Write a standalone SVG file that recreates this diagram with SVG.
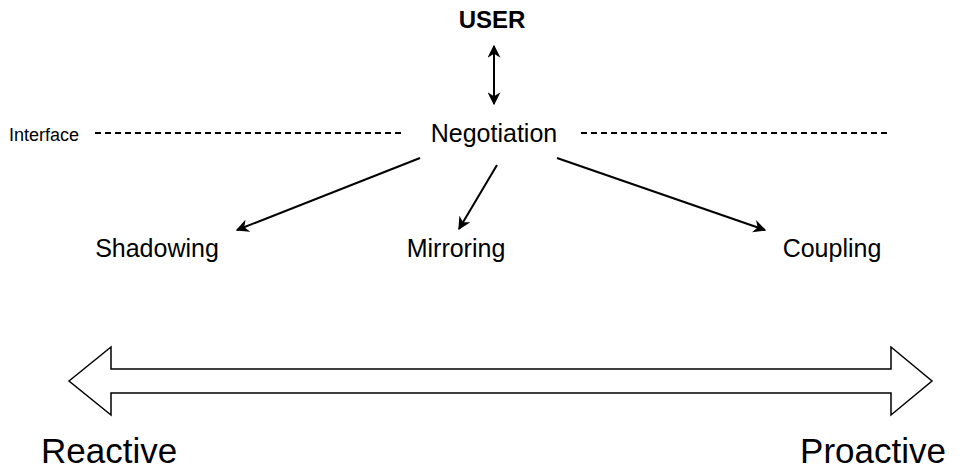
<svg xmlns="http://www.w3.org/2000/svg" width="966" height="471" viewBox="0 0 966 471">
<defs>
<style>
text{font-family:"Liberation Sans",Arial,sans-serif;fill:#000}
.c{stroke:#000;stroke-width:2;fill:none}
.d{stroke:#000;stroke-width:2;fill:none;stroke-dasharray:6 4}
.n{font-size:25px;text-anchor:middle}
.b{font-size:35px}
</style>
<marker id="ah2" viewBox="0 0 10 10" refX="9" refY="5" markerWidth="13" markerHeight="13" markerUnits="userSpaceOnUse" orient="auto-start-reverse">
<path d="M0,0 L10,5 L0,10 L3,5 Z" fill="#000"/>
</marker>
</defs>
<g id="user"><text x="492" y="28" font-size="24" font-weight="bold" text-anchor="middle">USER</text></g>
<g id="negotiation"><text class="n" x="494" y="142">Negotiation</text></g>
<g id="interface"><text x="9" y="141" font-size="18">Interface</text></g>
<g id="shadowing"><text class="n" x="157" y="257">Shadowing</text></g>
<g id="mirroring"><text class="n" x="456" y="257">Mirroring</text></g>
<g id="coupling"><text class="n" x="832" y="257">Coupling</text></g>
<g id="reactive"><text class="b" x="41" y="463">Reactive</text></g>
<g id="proactive"><text class="b" x="946" y="463" text-anchor="end">Proactive</text></g>
<g id="spectrum"><path d="M69,381 L111,347 L111,369 L891,369 L891,347 L932,381 L891,415 L891,393 L111,393 L111,415 Z" fill="#fff" stroke="#000" stroke-width="1.5"/></g>
<g id="connectors">
<line class="d" x1="95" y1="133" x2="405" y2="133"/>
<line class="d" x1="581" y1="133" x2="890" y2="133"/>
<line class="c" x1="494" y1="46" x2="494" y2="104" marker-start="url(#ah2)" marker-end="url(#ah2)"/>
<line class="c" x1="420" y1="158" x2="237" y2="230" marker-end="url(#ah2)"/>
<line class="c" x1="497" y1="165" x2="459" y2="229" marker-end="url(#ah2)"/>
<line class="c" x1="557" y1="158" x2="765" y2="230" marker-end="url(#ah2)"/>
</g>
</svg>
